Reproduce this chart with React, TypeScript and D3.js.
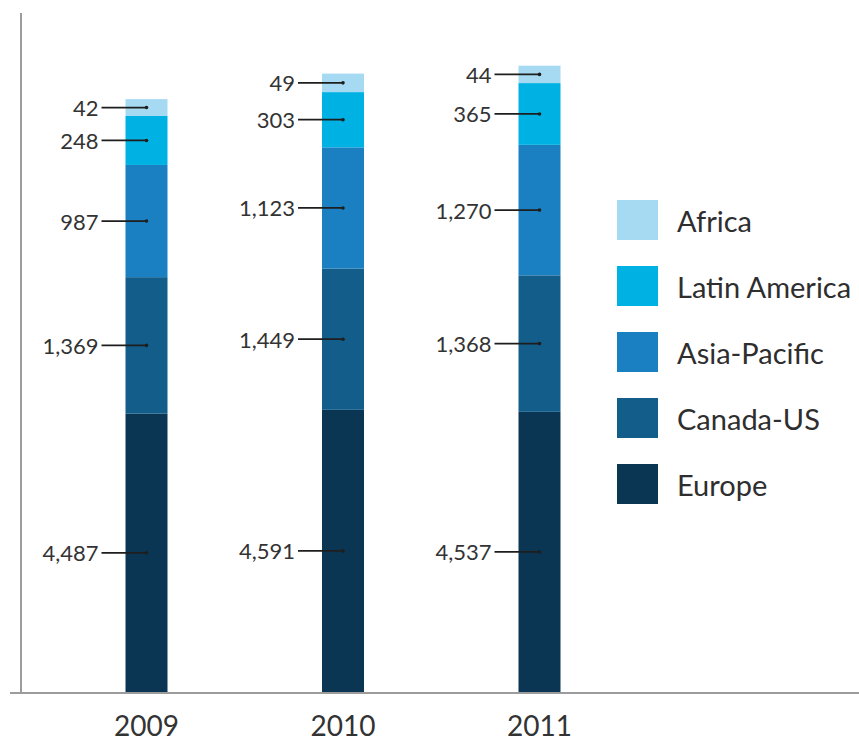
import React from "react";
import * as d3 from "d3";

const years = ["2009", "2010", "2011"];
const regions = ["Europe", "Canada-US", "Asia-Pacific", "Latin America", "Africa"];
const europe = [4487, 4591, 4537];
const canadaUS = [1369, 1449, 1368];
const asiaPacific = [987, 1123, 1270];
const latinAmerica = [248, 303, 365];
const africa = [42, 49, 44];
const colors = ["#0b3653", "#125d8a", "#1a80c2", "#00b2e3", "#a6daf3"];
const legendOrder = ["Africa", "Latin America", "Asia-Pacific", "Canada-US", "Europe"];

const W = 859;
const H = 742;
const baseY = 692;
const font = "Lato, 'Noto Sans', sans-serif";

export default function App() {
  const series = [europe, canadaUS, asiaPacific, latinAmerica, africa];
  const x = d3.scalePoint<string>().domain(years).range([146.5, 539.5]);
  const h = d3.scalePow().exponent(0.6).domain([0, 5000]).range([0, 297]);
  const fmt = d3.format(",");
  const barW = 42;
  const legendY = d3.scalePoint<string>().domain(legendOrder).range([220, 484]);
  const colorOf = d3.scaleOrdinal<string, string>().domain(regions).range(colors);

  return (
    <svg width={W} height={H} style={{ position: "absolute", left: 0, top: 0, background: "#fff" }}>
      <line x1={21} x2={21} y1={13} y2={693} stroke="#9c9c9c" strokeWidth={2} />
      <line x1={10} x2={W} y1={693} y2={693} stroke="#9c9c9c" strokeWidth={2} />
      {years.map((yr, i) => {
        const cx = x(yr)!;
        let acc = 0;
        return (
          <g key={yr}>
            {series.map((s, j) => {
              const hh = h(s[i]);
              const y0 = baseY - acc - hh;
              acc += hh;
              const mid = y0 + hh / 2;
              return (
                <g key={j}>
                  <rect x={cx - barW / 2} y={y0} width={barW} height={hh} fill={colors[j]} />
                  <line x1={cx - barW / 2 - 24} x2={cx} y1={mid} y2={mid} stroke="#1e1e1e" strokeWidth={1.8} />
                  <circle cx={cx} cy={mid} r={1.8} fill="#1e1e1e" />
                  <text x={cx - barW / 2 - 27} y={mid} textAnchor="end" dominantBaseline="central"
                    fontFamily={font} fontSize={22} fill="#333">{fmt(s[i])}</text>
                </g>
              );
            })}
            <text x={cx} y={736} textAnchor="middle" fontFamily={font} fontSize={28} fill="#333">{yr}</text>
          </g>
        );
      })}
      {legendOrder.map((r) => (
        <g key={r}>
          <rect x={617} y={legendY(r)! - 20} width={41} height={40} fill={colorOf(r)} />
          <text x={677} y={legendY(r)!} dominantBaseline="central" fontFamily={font} fontSize={29} fill="#2e2e2e">{r}</text>
        </g>
      ))}
    </svg>
  );
}
